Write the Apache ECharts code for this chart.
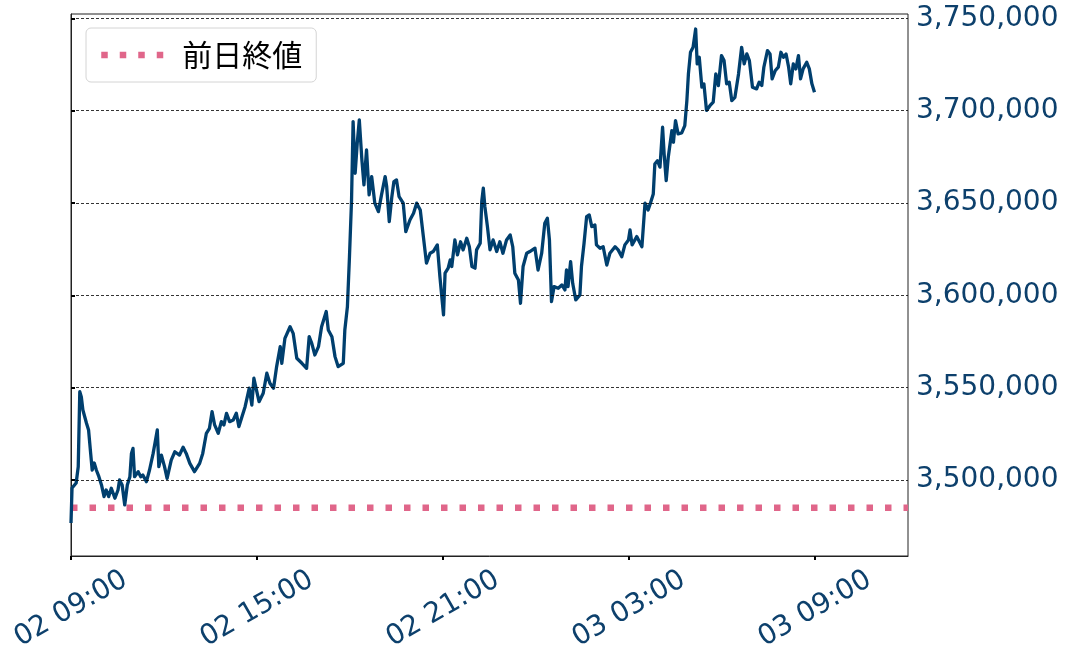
<!DOCTYPE html>
<html>
<head>
<meta charset="utf-8">
<script src="https://cdn.jsdelivr.net/npm/echarts@6/dist/echarts.min.js"></script>
<style>html,body{margin:0;padding:0;background:#fff;}#chart{width:1070px;height:661px;}</style>
</head>
<body>
<div id="chart"></div>
<script>
// ---- data ----
const xTickLabels = ['02 09:00', '02 15:00', '02 21:00', '03 03:00', '03 09:00'];
const xTickMinutes = [0, 360, 720, 1080, 1440];
const yTicks = [3500000, 3550000, 3600000, 3650000, 3700000, 3750000];
const prevCloseName = '前日終値';
const prevClose = 3485000;
// minutes elapsed since 02 09:00
const minutes = [0,2,10,14,17,20,23,30,34,38,41,45,49,54,59,64,68,73,78,85,91,94,99,104,109,114,117,120,123,130,135,139,146,152,159,163,167,170,175,181,186,194,201,210,217,223,230,239,249,255,262,268,273,278,285,291,296,301,307,314,320,325,330,337,345,350,354,359,364,372,379,385,392,398,405,408,414,424,430,437,447,456,461,466,472,479,485,494,498,505,511,517,527,530,535,539,543,546,550,554,558,563,567,572,577,582,588,595,601,608,611,616,621,625,630,635,643,648,656,663,669,676,682,688,695,701,709,714,721,724,730,734,737,743,748,754,759,766,771,776,782,785,792,795,798,801,806,811,817,824,830,836,843,850,855,859,866,870,875,882,888,898,904,911,917,922,926,930,935,943,950,956,959,962,967,971,977,985,988,993,998,1003,1008,1014,1017,1024,1030,1037,1043,1053,1059,1066,1072,1079,1082,1086,1095,1105,1111,1117,1121,1127,1130,1135,1140,1145,1148,1152,1156,1163,1166,1170,1175,1182,1188,1192,1195,1199,1204,1209,1212,1216,1221,1225,1230,1237,1243,1248,1253,1259,1264,1269,1274,1279,1285,1292,1298,1303,1308,1313,1319,1327,1332,1337,1341,1348,1353,1357,1363,1369,1374,1379,1384,1389,1393,1398,1403,1408,1412,1417,1424,1429,1434,1436,1439];
const prices = [3476700,3495700,3498400,3507200,3547800,3545000,3537900,3530700,3527100,3514600,3505400,3509200,3505400,3501800,3497300,3491000,3494600,3491000,3495500,3490100,3494600,3500000,3497300,3486500,3497300,3501800,3514400,3517100,3501800,3504500,3501800,3502700,3499100,3505400,3514400,3520700,3527100,3507200,3513500,3507200,3500900,3510800,3515300,3513500,3517700,3514400,3509000,3504500,3509000,3514400,3525300,3528000,3537000,3529800,3525300,3531600,3529800,3536100,3531600,3532500,3536100,3528900,3533400,3539700,3549700,3540600,3555100,3548700,3542400,3547000,3557800,3552400,3549700,3561400,3572200,3563200,3576700,3583000,3579400,3565900,3563200,3560500,3577600,3574000,3567700,3572200,3583000,3591200,3581200,3577600,3566800,3561400,3563200,3581200,3593900,3621000,3651600,3694100,3666100,3682400,3695000,3673300,3659800,3678700,3654400,3664300,3649900,3645300,3654400,3664300,3658900,3639900,3653400,3661600,3662500,3653400,3649900,3634500,3640800,3644400,3649900,3646200,3631800,3617400,3622800,3623700,3627300,3610100,3589400,3612000,3614700,3619200,3615600,3630000,3621900,3629000,3624600,3630900,3626300,3615600,3614700,3624600,3628200,3650800,3658000,3648100,3637200,3624600,3630000,3623700,3629000,3622800,3630000,3632700,3626300,3612000,3608300,3595700,3615600,3622800,3623700,3625500,3613700,3622800,3639000,3641700,3630000,3596600,3604700,3603800,3605600,3602900,3613700,3604700,3618200,3606500,3597500,3600200,3615600,3628200,3642600,3643500,3637200,3638100,3627300,3625500,3626300,3616400,3622800,3626300,3624600,3620900,3627300,3630000,3635400,3627300,3631800,3626300,3649900,3646200,3649500,3654900,3671100,3672900,3669400,3691000,3676600,3662100,3674800,3689200,3682900,3694600,3687400,3687900,3691900,3705400,3719900,3731600,3734300,3744200,3725300,3728900,3712700,3714500,3700100,3702800,3704600,3719900,3713600,3729800,3727100,3714500,3715400,3705400,3707200,3719900,3734300,3725300,3730700,3727100,3712700,3711800,3715400,3713600,3723500,3732500,3730700,3717200,3721700,3723500,3731600,3728900,3730700,3723500,3714500,3725300,3722600,3729800,3717200,3722600,3726200,3722600,3714500,3713600,3710000];

// ---- chart ----
const labelColor = '#0d406c';
const lineColor = '#003f6e';
const closeColor = '#e0668a';
const priceData = minutes.map((m, i) => [m, prices[i]]);
const closeData = [[0, prevClose], [1620, prevClose]];
const fmt = v => String(v).replace(/\B(?=(\d{3})+(?!\d))/g, ',');

const chart = echarts.init(document.getElementById('chart'), null, {renderer: 'canvas'});
chart.setOption({
  animation: false,
  backgroundColor: '#fff',
  grid: {left: 71, right: 162, top: 14, bottom: 105, show: true, borderColor: '#222', borderWidth: 1, backgroundColor: 'transparent'},
  legend: {
    data: [prevCloseName],
    left: 86, top: 28,
    orient: 'vertical',
    backgroundColor: '#fff',
    borderColor: '#d4d4d4', borderWidth: 1, borderRadius: 5,
    padding: [11, 14, 11, 12],
    itemWidth: 62, itemHeight: 30,
    itemStyle: {opacity: 0},
    lineStyle: {color: closeColor, width: 6.5, type: [6.5, 12], cap: 'butt'},
    textStyle: {fontFamily: 'Noto Sans CJK JP', fontSize: 30, color: '#000', padding: [0, 0, 0, 14], lineHeight: 32}
  },
  xAxis: {
    type: 'value', min: 0, max: 1620,
    axisLine: {show: true, onZero: false, lineStyle: {color: '#222', width: 1}},
    axisTick: {show: true, customValues: xTickMinutes, length: 4, lineStyle: {color: '#000', width: 2}},
    axisLabel: {
      customValues: xTickMinutes,
      formatter: v => { const i = xTickMinutes.indexOf(v); return i >= 0 ? xTickLabels[i] : ''; },
      rotate: 30, align: 'center', verticalAlign: 'middle', margin: 53,
      fontFamily: 'DejaVu Sans', fontSize: 28, color: labelColor
    },
    splitLine: {show: false}
  },
  yAxis: {
    type: 'value', position: 'right', min: 3458840, max: 3752330,
    axisLine: {show: true, lineStyle: {color: '#222', width: 1}},
    axisTick: {show: true, customValues: yTicks, length: 4, lineStyle: {color: '#000', width: 2}},
    axisLabel: {customValues: yTicks, formatter: v => fmt(v), margin: 8, fontFamily: 'DejaVu Sans', fontSize: 28, color: labelColor},
    splitLine: {show: false}
  },
  series: [
    {
      name: prevCloseName, type: 'line', data: closeData, symbol: 'none', z: 2,
      lineStyle: {color: closeColor, width: 6.5, type: [6.5, 12], cap: 'butt'},
      itemStyle: {color: closeColor},
      markLine: {
        silent: true, symbol: 'none', label: {show: false},
        lineStyle: {color: '#000', width: 0.8, type: [3, 2]},
        data: yTicks.map(v => ({yAxis: v}))
      }
    },
    {
      name: '価格', type: 'line', data: priceData, symbol: 'none', z: 3,
      lineStyle: {color: lineColor, width: 3.3, join: 'round'}
    }
  ]
});
</script>
</body>
</html>
